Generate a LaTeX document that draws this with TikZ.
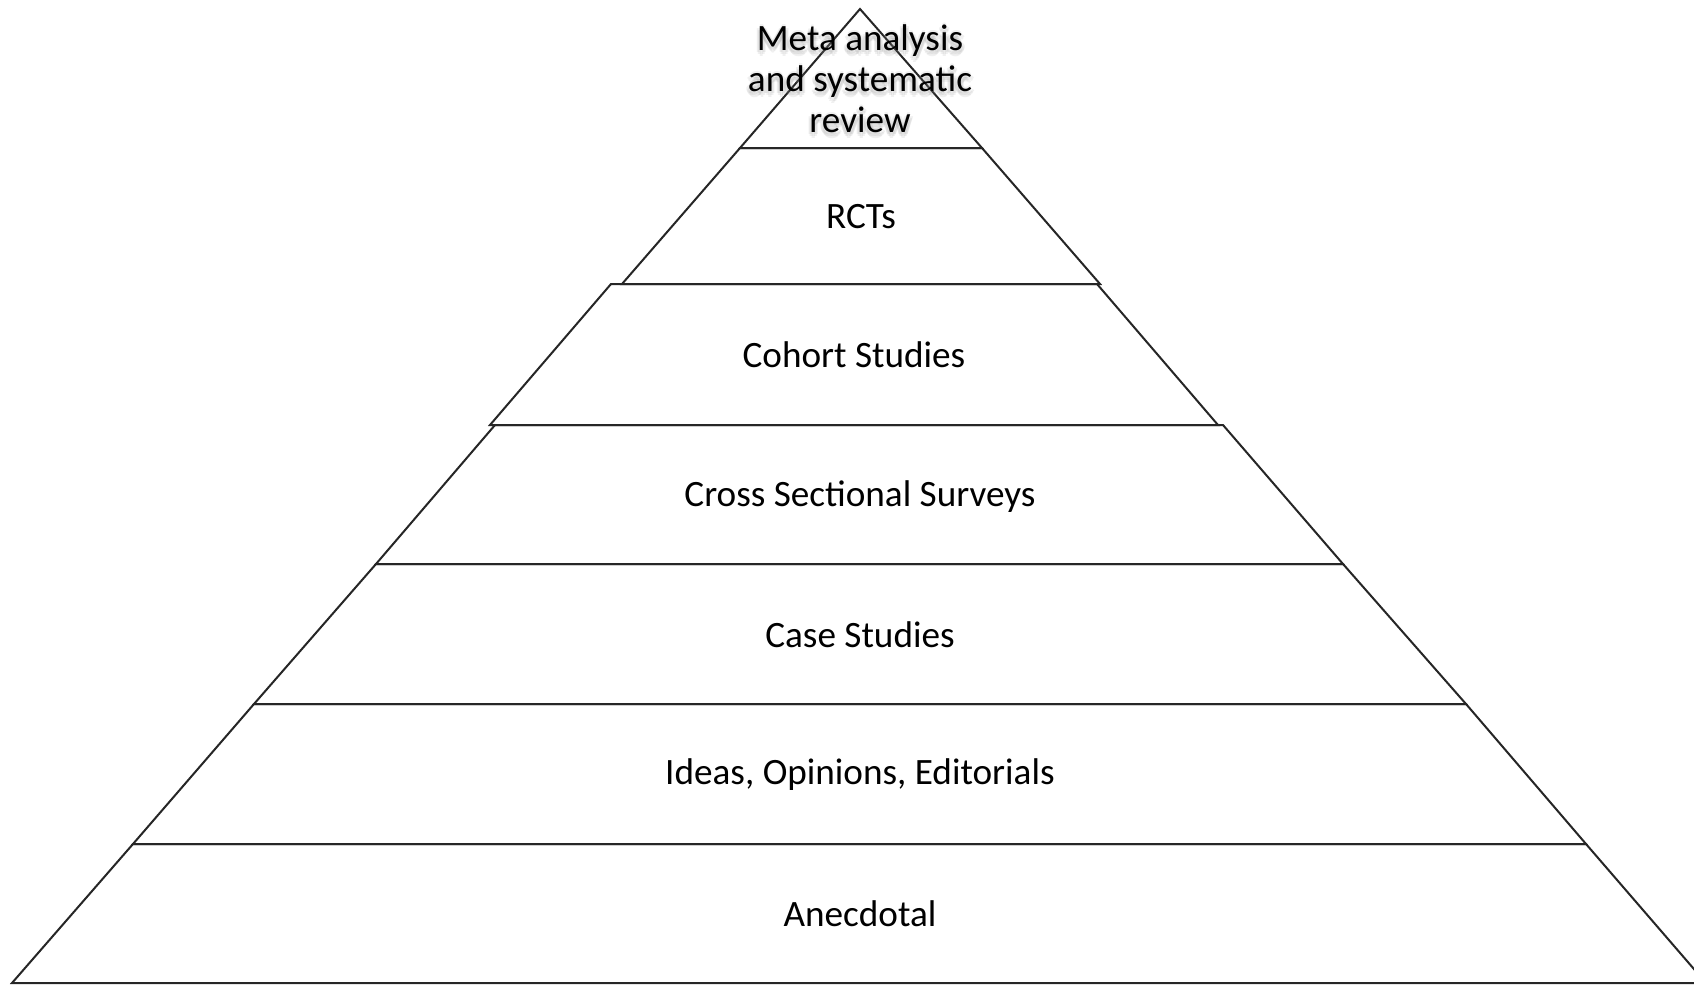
\documentclass[tikz,border=0pt]{standalone}
\usepackage{fontspec}
\setmainfont{Carlito}
\begin{document}
\begin{tikzpicture}[x=0.5pt,y=-0.5pt,
  layer/.style={draw=black!85,line width=1pt,line join=miter},
  lbl/.style={font=\fontsize{18.6}{20.5}\selectfont,align=center,inner sep=0pt,text=black},
  glow/.style={lbl,text=black!50,opacity=0.12}]
\useasboundingbox (0,0) rectangle (1694,985);
% layers
\draw[layer] (860,9) -- (982,148) -- (740,148) -- cycle;
\draw[layer] (740,148) -- (982,148) -- (1100,284) -- (622,284) -- cycle;
\draw[layer] (611,284) -- (1097,284) -- (1218,425) -- (490,425) -- cycle;
\draw[layer] (495,425) -- (1223,425) -- (1343,564) -- (376,564) -- cycle;
\draw[layer] (376,564) -- (1343,564) -- (1466,704) -- (254,704) -- cycle;
\draw[layer] (254,704) -- (1466,704) -- (1586,844) -- (133,844) -- cycle;
\draw[layer] (133,844) -- (1586,844) -- (1706,983) -- (12,983) -- cycle;
% soft shadow behind the top label
\foreach \dx/\dy [count=\i] in {-3/2,3/2,0/-2,0/6,2/4,-2/4} {
  \node[glow] (g\i) at (860+\dx,79+\dy) {Meta analysis\\and systematic\\review};
}
% labels
\node[lbl] (meta) at (860,79) {Meta analysis\\and systematic\\review};
\node[lbl] (rct) at (861,217) {RCTs};
\node[lbl] (cohort) at (854,355) {Cohort Studies};
\node[lbl] (cross) at (860,497) {Cross Sectional Surveys};
\node[lbl] (case) at (860,635) {Case Studies};
\node[lbl] (ideas) at (860,775) {Ideas, Opinions, Editorials};
\node[lbl] (anec) at (860,914) {Anecdotal};
\end{tikzpicture}
\end{document}
